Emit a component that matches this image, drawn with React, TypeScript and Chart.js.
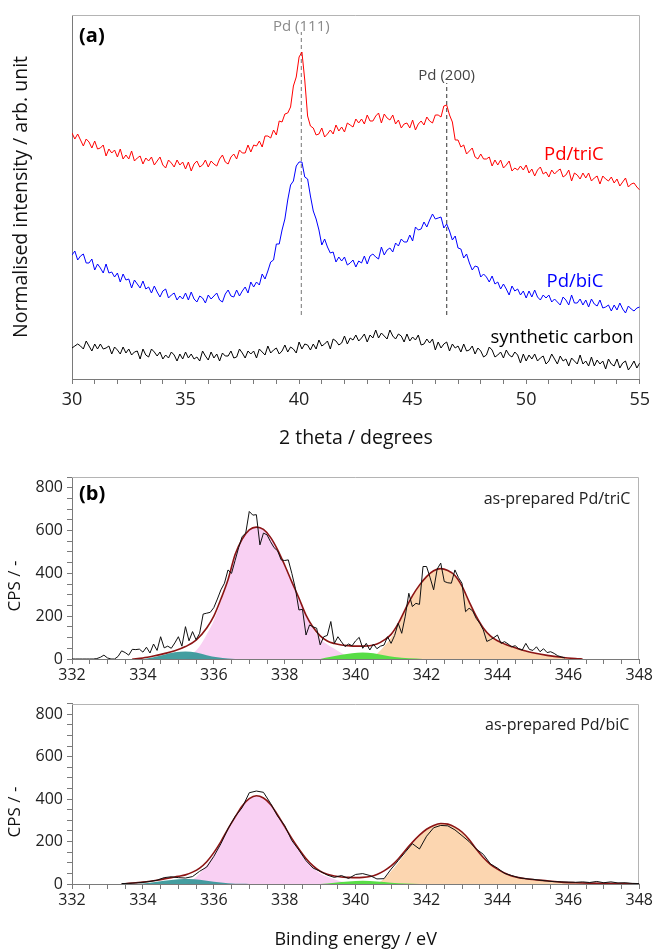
import React, { useEffect, useRef } from 'react';
import { Chart, registerables } from 'chart.js';

Chart.register(...registerables);
Chart.defaults.font.family = "'Open Sans', sans-serif";

// ---------- (a) XRD ----------
const THETA_START = 30;
const THETA_STEP = 0.125;
const xrdTriC = [
  246, 240, 245, 239, 233, 240, 237, 231, 238, 230,
  231, 234, 223, 230, 226, 229, 222, 230, 220, 224,
  220, 228, 218, 221, 223, 215, 221, 218, 222, 214,
  218, 222, 214, 211, 219, 216, 212, 219, 214, 217,
  210, 217, 208, 215, 218, 212, 214, 219, 212, 218,
  215, 213, 220, 224, 217, 215, 222, 225, 220, 229,
  226, 226, 234, 227, 234, 233, 238, 232, 243, 243,
  241, 249, 244, 258, 257, 265, 266, 272, 293, 302,
  322, 327, 299, 263, 253, 251, 244, 245, 251, 242,
  245, 249, 245, 254, 248, 252, 247, 256, 254, 252,
  260, 256, 260, 255, 264, 258, 258, 263, 266, 256,
  265, 261, 259, 264, 255, 259, 251, 255, 256, 251,
  259, 249, 255, 258, 254, 262, 258, 256, 264, 264,
  262, 273, 274, 264, 257, 239, 239, 232, 234, 225,
  228, 231, 222, 220, 225, 220, 220, 222, 213, 219,
  214, 219, 211, 214, 218, 208, 211, 209, 213, 209,
  214, 206, 210, 203, 209, 212, 205, 207, 202, 209,
  205, 208, 210, 202, 204, 209, 198, 206, 204, 200,
  206, 201, 206, 198, 201, 203, 195, 203, 200, 198,
  202, 196, 200, 193, 197, 201, 192, 195, 196, 192,
  189,
];
const xrdBiC = [
  124, 128, 119, 123, 125, 116, 116, 120, 109, 115,
  111, 106, 115, 106, 107, 102, 106, 97, 105, 99,
  100, 91, 99, 95, 91, 98, 90, 92, 86, 93,
  87, 82, 88, 90, 81, 84, 86, 79, 83, 80,
  86, 79, 87, 80, 77, 83, 81, 76, 84, 80,
  83, 86, 79, 77, 85, 89, 83, 82, 89, 83,
  88, 92, 86, 97, 92, 97, 94, 105, 100, 108,
  117, 119, 135, 135, 149, 160, 179, 194, 198, 213,
  217, 217, 202, 200, 183, 168, 160, 149, 134, 140,
  132, 126, 127, 117, 122, 118, 122, 114, 116, 119,
  112, 118, 116, 123, 115, 123, 125, 122, 120, 132,
  124, 129, 131, 127, 136, 133, 140, 137, 137, 144,
  138, 152, 149, 150, 157, 152, 159, 165, 160, 161,
  162, 151, 155, 148, 139, 143, 131, 130, 121, 125,
  116, 109, 113, 112, 102, 105, 102, 97, 103, 95,
  97, 90, 95, 90, 84, 93, 88, 90, 84, 88,
  81, 88, 82, 89, 82, 79, 84, 81, 84, 77,
  80, 77, 74, 82, 79, 74, 84, 76, 76, 80,
  74, 79, 72, 80, 75, 73, 79, 71, 72, 74,
  68, 74, 69, 76, 70, 66, 73, 70, 68, 71,
  72,
];
const xrdCarbon = [
  31, 33, 35, 33, 30, 38, 33, 28, 35, 30,
  35, 30, 31, 33, 25, 32, 29, 25, 32, 26,
  30, 24, 27, 28, 20, 30, 24, 22, 30, 27,
  23, 27, 20, 24, 21, 27, 24, 18, 25, 20,
  27, 21, 25, 20, 22, 18, 28, 23, 19, 27,
  21, 25, 18, 26, 23, 23, 28, 21, 22, 30,
  26, 21, 28, 25, 28, 21, 30, 27, 24, 33,
  26, 29, 31, 25, 28, 34, 27, 32, 30, 26,
  37, 30, 35, 34, 29, 35, 30, 39, 33, 35,
  38, 30, 40, 38, 34, 36, 43, 35, 41, 39,
  44, 38, 41, 45, 37, 44, 41, 49, 41, 46,
  43, 40, 49, 43, 40, 45, 43, 37, 45, 38,
  42, 39, 44, 34, 35, 40, 36, 40, 29, 37,
  31, 35, 37, 28, 35, 31, 33, 27, 35, 28,
  29, 33, 25, 31, 28, 22, 24, 32, 29, 22,
  24, 27, 21, 29, 24, 22, 27, 24, 16, 25,
  18, 24, 20, 25, 18, 21, 23, 15, 18, 25,
  20, 15, 23, 18, 20, 13, 21, 18, 15, 24,
  15, 18, 13, 22, 13, 19, 15, 18, 10, 20,
  15, 13, 20, 11, 16, 18, 9, 13, 18, 11,
  16,
];
const pd111Line: [number, number][] = [[40.1, 64], [40.1, 347]];
const pd200Line: [number, number][] = [[46.5, 64], [46.5, 296]];

// ---------- (b) XPS, Pd/triC ----------
const B1_START = 332.0;
const B1_STEP = 0.1;
const b1Raw = [
  0, 0, 0, 0, 0, 0, 0, 2, 8, 18,
  5, 0, 0, 12, 38, 30, 18, 45, 44, 46,
  32, 55, 28, 70, 40, 104, 52, 60, 50, 75,
  104, 60, 151, 85, 128, 90, 120, 210, 214, 218,
  240, 280, 323, 354, 416, 400, 460, 520, 572, 588,
  689, 672, 674, 533, 588, 580, 548, 520, 505, 463,
  460, 463, 400, 330, 229, 232, 112, 159, 150, 144,
  66, 104, 110, 175, 73, 104, 80, 58, 70, 62,
  85, 101, 50, 73, 42, 70, 48, 60, 65, 104,
  73, 110, 167, 120, 200, 307, 245, 260, 255, 432,
  432, 380, 323, 420, 448, 362, 356, 354, 416, 380,
  354, 221, 237, 225, 190, 167, 136, 82, 90, 100,
  112, 73, 81, 70, 57, 62, 48, 42, 73, 45,
  40, 57, 34, 48, 30, 34, 26, 15, 10, 5,
];
const b1Envelope: [number, number][] = [
  [333.7, 0], [334.0, 5], [334.3, 14], [334.6, 25], [334.9, 38], [335.2, 58], [335.5, 88],
  [335.8, 145], [336.0, 200], [336.2, 280], [336.4, 370], [336.6, 488], [336.8, 560],
  [337.0, 603], [337.2, 616], [337.4, 605], [337.6, 568], [337.8, 510], [338.0, 438],
  [338.2, 360], [338.4, 285], [338.6, 205], [338.8, 148], [339.0, 108], [339.2, 84],
  [339.4, 72], [339.6, 65], [339.8, 62], [340.0, 60], [340.2, 60], [340.4, 62], [340.6, 70],
  [340.8, 88], [341.0, 115], [341.2, 165], [341.4, 232], [341.6, 295], [341.8, 345],
  [342.0, 385], [342.2, 412], [342.4, 422], [342.6, 413], [342.8, 390], [343.0, 340],
  [343.2, 268], [343.4, 200], [343.6, 145], [343.8, 108], [344.0, 85], [344.2, 70],
  [344.4, 58], [344.6, 47], [344.8, 37], [345.0, 29], [345.4, 17], [345.8, 8], [346.2, 2],
  [346.4, 0],
];
const b1Teal: [number, number][] = [
  [334.0, 0], [334.3, 8], [334.6, 20], [334.9, 31], [335.2, 35], [335.5, 30], [335.8, 18],
  [336.1, 8], [336.4, 2], [336.6, 0],
];
const b1Pink: [number, number][] = [
  [335.2, 0], [335.4, 25], [335.6, 60], [335.8, 115], [336.0, 180], [336.2, 270], [336.4, 365],
  [336.6, 485], [336.8, 558], [337.0, 602], [337.2, 615], [337.4, 604], [337.6, 566],
  [337.8, 508], [338.0, 436], [338.2, 358], [338.4, 282], [338.6, 200], [338.8, 140],
  [339.0, 95], [339.2, 68], [339.4, 48], [339.6, 28], [339.8, 10], [340.0, 0],
];
const b1Green: [number, number][] = [
  [339.0, 0], [339.3, 10], [339.6, 20], [339.9, 27], [340.2, 30], [340.5, 27], [340.8, 18],
  [341.1, 9], [341.5, 3], [341.9, 0],
];
const b1Orange: [number, number][] = [
  [340.4, 0], [340.7, 40], [341.0, 100], [341.2, 160], [341.4, 228], [341.6, 292], [341.8, 343],
  [342.0, 383], [342.2, 410], [342.4, 420], [342.6, 411], [342.8, 388], [343.0, 338],
  [343.2, 266], [343.4, 198], [343.6, 143], [343.8, 106], [344.0, 83], [344.2, 68], [344.4, 56],
  [344.6, 45], [344.8, 35], [345.0, 27], [345.4, 15], [345.8, 7], [346.2, 2], [346.4, 0],
];

// ---------- (b) XPS, Pd/biC ----------
const B2_START = 333.4;
const B2_STEP = 0.2;
const b2Raw = [
  2, 3, 5, 8, 12, 18, 30, 34, 30, 28,
  35, 60, 80, 130, 190, 260, 318, 360, 430, 438,
  432, 380, 320, 275, 205, 160, 110, 75, 60, 42,
  31, 40, 26, 45, 49, 40, 24, 25, 70, 110,
  150, 190, 165, 225, 265, 276, 274, 255, 228, 200,
  165, 140, 95, 75, 50, 40, 30, 25, 22, 18,
  14, 11, 10, 9, 8, 10, 7, 12, 6, 10,
  5, 6, 3, 2,
];
const b2Envelope: [number, number][] = [
  [333.4, 0], [333.6, 3], [333.8, 6], [334.0, 9], [334.2, 13], [334.4, 18], [334.6, 24],
  [334.8, 30], [335.0, 36], [335.2, 43], [335.4, 56], [335.6, 75], [335.8, 105], [336.0, 148],
  [336.2, 200], [336.4, 260], [336.6, 315], [336.8, 368], [337.0, 402], [337.2, 416],
  [337.4, 405], [337.6, 375], [337.8, 325], [338.0, 270], [338.2, 215], [338.4, 165],
  [338.6, 120], [338.8, 85], [339.0, 60], [339.2, 46], [339.4, 38], [339.6, 33], [339.8, 31],
  [340.0, 30], [340.2, 31], [340.4, 35], [340.6, 45], [340.8, 62], [341.0, 85], [341.2, 118],
  [341.4, 158], [341.6, 196], [341.8, 230], [342.0, 258], [342.2, 276], [342.4, 285],
  [342.6, 282], [342.8, 268], [343.0, 245], [343.2, 210], [343.4, 165], [343.6, 125],
  [343.8, 93], [344.0, 70], [344.2, 52], [344.4, 38], [344.6, 30], [344.8, 25], [345.0, 21],
  [345.4, 15], [345.8, 9], [346.2, 6], [346.6, 4], [347.0, 3], [347.5, 2], [348.0, 1],
];
const b2Teal: [number, number][] = [
  [333.8, 0], [334.2, 6], [334.6, 15], [335.0, 22], [335.3, 24], [335.6, 20], [336.0, 11],
  [336.4, 4], [336.8, 1], [337.0, 0],
];
const b2Pink: [number, number][] = [
  [335.2, 0], [335.4, 20], [335.6, 50], [335.8, 90], [336.0, 138], [336.2, 195], [336.4, 255],
  [336.6, 312], [336.8, 366], [337.0, 401], [337.2, 415], [337.4, 404], [337.6, 373],
  [337.8, 322], [338.0, 266], [338.2, 210], [338.4, 158], [338.6, 112], [338.8, 76],
  [339.0, 50], [339.2, 34], [339.4, 22], [339.6, 12], [339.8, 5], [340.0, 0],
];
const b2Green: [number, number][] = [
  [339.0, 0], [339.4, 6], [339.8, 12], [340.2, 15], [340.6, 12], [341.0, 6], [341.4, 2], [341.8, 0],
];
const b2Orange: [number, number][] = [
  [340.6, 0], [340.8, 25], [341.0, 60], [341.2, 100], [341.4, 145], [341.6, 188], [341.8, 225],
  [342.0, 255], [342.2, 274], [342.4, 284], [342.6, 281], [342.8, 267], [343.0, 244],
  [343.2, 209], [343.4, 164], [343.6, 124], [343.8, 92], [344.0, 69], [344.2, 51], [344.4, 37],
  [344.6, 29], [344.8, 24], [345.0, 20], [345.4, 14], [345.8, 8], [346.2, 5], [346.6, 3],
  [347.0, 2], [347.5, 1], [348.0, 0],
];

// ---------- helpers ----------
const seq = (start: number, step: number, vals: number[]) =>
  vals.map((y, i) => ({ x: +(start + i * step).toFixed(3), y }));
const pts = (pairs: [number, number][]) => pairs.map(([x, y]) => ({ x, y }));

type TextItem = {
  text: string; x: number; y: number; font: string; color: string;
  align?: CanvasTextAlign; rotate?: number; pixel?: boolean;
};

const textPlugin = (items: TextItem[]) => ({
  id: 'texts',
  afterDatasetsDraw(chart: any) {
    const { ctx, scales } = chart;
    for (const it of items) {
      const px = it.pixel ? it.x : scales.x.getPixelForValue(it.x);
      const py = it.pixel ? it.y : scales.y.getPixelForValue(it.y);
      ctx.save();
      ctx.translate(px, py);
      if (it.rotate) ctx.rotate(it.rotate);
      ctx.font = it.font;
      ctx.fillStyle = it.color;
      ctx.textAlign = it.align || 'center';
      ctx.textBaseline = 'middle';
      ctx.fillText(it.text, 0, 0);
      ctx.restore();
    }
  },
});

const framePlugin = {
  id: 'frame',
  beforeDatasetsDraw(chart: any) {
    const { ctx, chartArea } = chart;
    const { left, top, right, bottom } = chartArea;
    ctx.save();
    ctx.strokeStyle = '#b4b4b4';
    ctx.lineWidth = 1;
    ctx.beginPath();
    ctx.moveTo(left, Math.round(top) + 0.5);
    ctx.lineTo(Math.round(right) - 0.5, Math.round(top) + 0.5);
    ctx.lineTo(Math.round(right) - 0.5, bottom);
    ctx.stroke();
    ctx.restore();
  },
};

const line = (data: any[], color: string, width = 1, extra: any = {}) => ({
  data, borderColor: color, borderWidth: width, pointRadius: 0, fill: false, tension: 0, ...extra,
});
const area = (data: any[], color: string) => ({
  data, borderColor: 'transparent', borderWidth: 0, backgroundColor: color, pointRadius: 0,
  fill: 'origin', cubicInterpolationMode: 'monotone',
});

const AXIS = '#7a7a7a';
const TEAL = 'rgba(52,150,152,0.92)';
const PINK = '#f9d0f3';
const GREEN = '#58dd46';
const ORANGE = '#fcd6b0';
const ENV = '#8c1414';

function xrdConfig(): any {
  return {
    type: 'line',
    data: {
      datasets: [
        line(seq(THETA_START, THETA_STEP, xrdTriC), '#ff0000'),
        line(seq(THETA_START, THETA_STEP, xrdBiC), '#0000ff'),
        line(seq(THETA_START, THETA_STEP, xrdCarbon), '#000000'),
        line(pts(pd111Line), '#8c8c8c', 1.2, { borderDash: [4, 3] }),
        line(pts(pd200Line), '#555555', 1.2, { borderDash: [4, 3] }),
      ],
    },
    options: {
      responsive: false,
      animation: false,
      events: [],
      layout: { padding: { top: 15, right: 12, left: 0, bottom: 0 } },
      plugins: { legend: { display: false }, tooltip: { enabled: false } },
      scales: {
        x: {
          type: 'linear', min: 30, max: 55,
          afterFit: (s: any) => { s.height = 81; },
          ticks: {
            stepSize: 1, autoSkip: false, maxRotation: 0, minRotation: 0, padding: 5,
            color: '#222', font: { size: 18 },
            callback: (v: any) => (Number(v) % 5 === 0 ? String(v) : ''),
          },
          grid: { display: true, drawOnChartArea: false, drawTicks: true, tickLength: 5, color: AXIS },
          border: { display: true, color: AXIS, width: 1 },
          title: { display: true, text: '2 theta / degrees', color: '#111', font: { size: 19.5 }, padding: { top: 0, bottom: 10 } },
        },
        y: {
          type: 'linear', min: 0, max: 364,
          afterFit: (s: any) => { s.width = 72; },
          ticks: { display: false },
          grid: { display: false },
          border: { display: true, color: AXIS, width: 1 },
          title: { display: true, text: 'Normalised intensity / arb. unit', color: '#111', font: { size: 19.5 }, padding: { top: 10, bottom: 0 } },
        },
      },
    },
    plugins: [
      framePlugin,
      textPlugin([
        { text: '(a)', x: 30.31, y: 343, font: "bold 20px 'Open Sans'", color: '#000', align: 'left' },
        { text: 'Pd (111)', x: 40.1, y: 352, font: "15px 'Open Sans'", color: '#8a8a8a' },
        { text: 'Pd (200)', x: 46.5, y: 303, font: "15px 'Open Sans'", color: '#444' },
        { text: 'Pd/triC', x: 52.1, y: 224, font: "18.5px 'Open Sans'", color: '#ff0000' },
        { text: 'Pd/biC', x: 52.15, y: 97, font: "18.5px 'Open Sans'", color: '#0000ff' },
        { text: 'synthetic carbon', x: 51.58, y: 41, font: "18.5px 'Open Sans'", color: '#000' },
      ]),
    ],
  };
}

function xpsConfig(opts: {
  raw: any[]; env: any[]; teal: any[]; pink: any[]; green: any[]; orange: any[];
  padTop: number; padRight: number; xHeight: number; xTitle?: string; items: TextItem[];
}): any {
  return {
    type: 'line',
    data: {
      datasets: [
        line(opts.raw, '#111111', 1),
        line(opts.env, ENV, 1.6, { cubicInterpolationMode: 'monotone' }),
        area(opts.teal, TEAL),
        area(opts.green, GREEN),
        area(opts.pink, PINK),
        area(opts.orange, ORANGE),
      ],
    },
    options: {
      responsive: false,
      animation: false,
      events: [],
      layout: { padding: { top: opts.padTop, right: opts.padRight, left: 0, bottom: 0 } },
      plugins: { legend: { display: false }, tooltip: { enabled: false } },
      scales: {
        x: {
          type: 'linear', min: 332, max: 348,
          afterFit: (s: any) => { s.height = opts.xHeight; },
          ticks: {
            stepSize: 0.5, autoSkip: false, maxRotation: 0, minRotation: 0, padding: 2,
            color: '#222', font: { size: 16 },
            callback: (v: any) => (Number(v) % 2 === 0 ? String(v) : ''),
          },
          grid: { display: true, drawOnChartArea: false, drawTicks: true, tickLength: 5, color: AXIS },
          border: { display: true, color: AXIS, width: 1 },
          title: opts.xTitle
            ? { display: true, text: opts.xTitle, color: '#111', font: { size: 18 }, padding: { top: 0, bottom: -2 } }
            : { display: false },
        },
        y: {
          type: 'linear', min: 0, max: 850,
          afterFit: (s: any) => { s.width = 72; },
          ticks: {
            stepSize: 50, autoSkip: false, padding: 4, color: '#222', font: { size: 16 },
            callback: (v: any) => (Number(v) % 200 === 0 ? String(v) : ''),
          },
          grid: { display: true, drawOnChartArea: false, drawTicks: true, tickLength: 5, color: AXIS },
          border: { display: true, color: AXIS, width: 1 },
        },
      },
    },
    plugins: [framePlugin, textPlugin(opts.items)],
  };
}

function ChartBox({ top, height, make }: { top: number; height: number; make: () => any }) {
  const ref = useRef<HTMLCanvasElement | null>(null);
  useEffect(() => {
    if (!ref.current) return;
    const chart = new Chart(ref.current, make());
    return () => chart.destroy();
  }, []);
  return (
    <div style={{ position: 'absolute', left: 0, top, width: 655, height }}>
      <canvas ref={ref} width={655} height={height} style={{ display: 'block', width: 655, height }} />
    </div>
  );
}

export default function App() {
  const ROT = -Math.PI / 2;
  return (
    <div style={{ position: 'absolute', left: 0, top: 0, width: 655, height: 949, background: '#fff', overflow: 'hidden' }}>
      <ChartBox top={0} height={460} make={xrdConfig} />
      <ChartBox
        top={460}
        height={230}
        make={() =>
          xpsConfig({
            raw: seq(B1_START, B1_STEP, b1Raw),
            env: pts(b1Envelope), teal: pts(b1Teal), pink: pts(b1Pink), green: pts(b1Green), orange: pts(b1Orange),
            padTop: 17, padRight: 12, xHeight: 31,
            items: [
              { text: '(b)', x: 332.2, y: 771, font: "bold 20px 'Open Sans'", color: '#000', align: 'left' },
              { text: 'as-prepared Pd/triC', x: 347.75, y: 743, font: "16px 'Open Sans'", color: '#222', align: 'right' },
              { text: 'CPS / -', x: 15, y: 126, font: "17px 'Open Sans'", color: '#111', rotate: ROT, pixel: true },
            ],
          })
        }
      />
      <ChartBox
        top={690}
        height={259}
        make={() =>
          xpsConfig({
            raw: seq(B2_START, B2_STEP, b2Raw),
            env: pts(b2Envelope), teal: pts(b2Teal), pink: pts(b2Pink), green: pts(b2Green), orange: pts(b2Orange),
            padTop: 11, padRight: 8, xHeight: 65, xTitle: 'Binding energy / eV',
            items: [
              { text: 'as-prepared Pd/biC', x: 347.72, y: 748, font: "16px 'Open Sans'", color: '#222', align: 'right' },
              { text: 'CPS / -', x: 15, y: 122, font: "17px 'Open Sans'", color: '#111', rotate: ROT, pixel: true },
            ],
          })
        }
      />
    </div>
  );
}
